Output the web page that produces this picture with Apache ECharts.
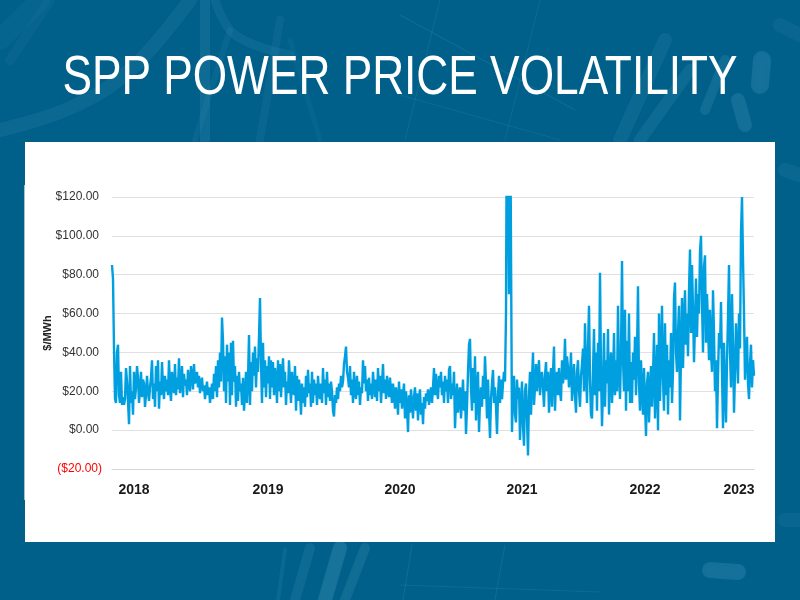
<!DOCTYPE html>
<html>
  <head>
    <title>SPP Power Price Volatility</title>
    <style>
      html,
      body {
        height: 100%;
        margin: 0;
        padding: 0;
      }
      #chart-container {
        width: 800px;
        height: 600px;
      }
    </style>
    <script src="https://cdn.jsdelivr.net/npm/echarts@6/dist/echarts.min.js"></script>
  </head>
  <body>
    <div id="chart-container"></div>

    <script>
      // price readings, $/MWh left to right
      var pricesEarly = [
        85, 78, 42, 16, 14, 40, 44, 18, 14, 30, 13, 17, 13, 16, 32, 25, 15, 3, 33, 14, 20, 8, 30, 16, 22, 33, 27, 14, 21, 30, 17, 26, 24, 12, 18, 28, 20, 15, 22, 27,
        36, 16, 24, 12, 33, 20, 36, 11, 25, 18, 35, 22, 16, 28, 20, 26, 18, 36, 22, 15, 30, 24, 19, 34, 18, 27, 21, 37, 19, 24, 33, 17, 29, 23, 26, 18, 31, 25, 20, 33,
        28, 21, 34, 24, 27, 30, 22, 28, 19, 24, 27, 20, 23, 16, 21, 25, 18, 22, 14, 19, 24, 16, 29, 20, 33, 17, 36, 22, 40, 25, 58, 46, 20, 38, 14, 44, 25, 40, 13, 45,
        18, 46, 25, 33, 12, 28, 15, 30, 20, 24, 13, 27, 10, 19, 30, 14, 26, 49, 13, 35, 20, 40, 28, 43, 22, 37, 30, 48, 68, 35, 14, 45, 22, 36, 17, 33, 24, 38, 16, 36
      ];
      var pricesCalm = [
        22, 35, 18, 32, 26, 14, 36, 20, 34, 17, 28, 37, 22, 30, 13, 25, 19, 36, 24, 14, 30, 21, 18, 33, 10, 28, 15, 26, 20, 8, 24, 14, 22, 12, 28, 17, 31, 19, 24, 12,
        30, 14, 26, 18, 24, 13, 28, 20, 16, 24, 14, 32, 19, 26, 13, 30, 17, 24, 15, 25, 20, 10, 7, 18, 14, 22, 16, 24, 20, 28, 22, 25, 34, 38, 43, 30, 27, 22, 33, 18,
        26, 14, 30, 20, 16, 28, 18, 25, 13, 22, 19, 36, 24, 33, 20, 26, 15, 27, 18, 24, 16, 30, 22, 17, 26, 15, 32, 20, 28, 14, 24, 34, 19, 26, 16, 28, 21, 17, 27, 20,
        14, 24, 19, 11, 22, 17, 8, 25, 14, 21, 11, 18, 24, 6, 20, 12, -1, 18, 9, 21, 14, 6, 17, 22, 10, 19, 5, 16, 21, 8, 14, 3, 17, 11, 19, 15, 21, 13, 18, 22
      ];
      var pricesSpike = [
        14, 22, 32, 18, 29, 20, 16, 28, 22, 30, 18, 25, 14, 28, 20, 26, 14, 31, 33, 16, 24, 18, 30, 1, 14, 24, 9, 18, 22, 6, 16, 26, 10, 20, -2, 12, 30, 44, 47, 22,
        10, 32, 14, 38, 5, 20, 30, -1, 15, 22, 12, 28, 16, 38, 24, 6, 26, 10, -4, 16, 24, 31, 14, 22, 12, -2, 18, 28, 14, 26, 16, 24, 30, 25, 60, 190, 190, 70, 190, 190
      ];
      var pricesRising = [
        -1, 22, 28, 8, 4, 26, 16, 22, -5, 12, 25, 2, -8, 20, 24, 6, -13, 18, 30, 8, 26, 40, 13, 22, 34, 20, 28, 36, 18, 26, 30, 22, 12, 28, 35, 20, 30, 9, 24, 32,
        12, 30, 43, 10, 26, 30, 18, 32, 20, 15, 36, 24, 30, 47, 26, 38, 32, 22, 28, 40, 15, 24, 34, 18, 9, 30, 36, 20, 12, 28, 34, 42, 20, 55, 32, 14, 42, 64, 26, 8,
        6, 30, 52, 18, 40, 10, 45, 20, 81, 30, 2, 22, 50, 12, 36, 24, 52, 8, 30, 40, 14, 26, 50, 18, 36, 20, 64, 30, 16, 40, 87, 36, 20, 62, 10, 46, 20, 60, 14, 35
      ];
      var pricesLate = [
        14, 40, 26, 48, 18, 40, 74, 24, 10, 36, 20, 8, 32, 14, -3, 24, 30, 4, 20, 33, 12, 28, 50, 6, 22, 44, 0, 60, 15, 38, 64, 26, 10, 55, 18, 44, 8, 36, 22, 50,
        14, 30, 68, 76, 40, 30, 50, 64, 5, 40, 68, 32, 56, 72, 44, 60, 38, 72, 93, 50, 85, 62, 35, 55, 78, 48, 70, 60, 92, 100, 66, 40, 84, 90, 45, 70, 55, 36, 62, 40,
        30, 72, 50, 20, 36, 1, 28, 50, 42, 66, 30, 1, 45, 22, 4, 36, 58, 85, 40, 22, 70, 44, 9, 30, 55, 40, 24, 60, 42, 102, 120, 88, 60, 26, 38, 48, 24, 16, 34, 44,
        22, 36, 28
      ];
      var prices = pricesEarly.concat(pricesCalm, pricesSpike, pricesRising, pricesLate);

      var yearLabels = ["2018", "2019", "2020", "2021", "2022", "2023"];
      var yearLabelIndex = [22, 156, 288, 410, 533, 627];
      var categories = prices.map(function (v, i) {
        var k = yearLabelIndex.indexOf(i);
        return k >= 0 ? yearLabels[k] : "";
      });

      // faint background streaks behind the title and the white panel
      function streak(points, width, alpha) {
        return {
          type: "polyline",
          silent: true,
          z: -5,
          shape: { points: points, smooth: 0.4 },
          style: {
            fill: null,
            stroke: "rgba(110,185,215," + alpha + ")",
            lineWidth: width,
            lineCap: "round",
            shadowBlur: width > 2 ? 6 : 0,
            shadowColor: "rgba(110,185,215," + alpha + ")",
          },
        };
      }

      var background = [
        { type: "rect", silent: true, z: -10, shape: { x: 0, y: 0, width: 800, height: 600 }, style: { fill: "#00608a" } },
        streak([[0, 130], [70, 108], [130, 70], [190, 0]], 14, 0.1),
        streak([[0, 40], [40, 0]], 20, 0.06),
        streak([[10, 60], [50, 0]], 10, 0.05),
        streak([[205, 0], [205, 140]], 10, 0.13),
        streak([[215, 0], [235, 35], [290, 55]], 9, 0.1),
        streak([[280, 20], [260, 140]], 8, 0.08),
        streak([[230, 30], [195, 140]], 6, 0.08),
        streak([[290, 40], [320, 140]], 5, 0.06),
        streak([[400, 15], [575, 110]], 1, 0.16),
        streak([[400, 95], [560, 140]], 1, 0.12),
        streak([[440, 0], [405, 140]], 1, 0.13),
        streak([[540, 0], [505, 140]], 1, 0.12),
        streak([[665, 40], [620, 140]], 14, 0.1),
        streak([[690, 70], [640, 140]], 12, 0.12),
        streak([[725, 60], [705, 110]], 10, 0.14),
        streak([[762, 60], [760, 85]], 18, 0.18),
        streak([[738, 100], [745, 125]], 14, 0.16),
        streak([[780, 25], [800, 35]], 14, 0.08),
        streak([[785, 170], [800, 175]], 14, 0.09),
        streak([[785, 520], [800, 520]], 14, 0.08),
        streak([[310, 548], [295, 600]], 10, 0.12),
        streak([[340, 548], [325, 600]], 14, 0.2),
        streak([[365, 548], [345, 600]], 10, 0.14),
        streak([[285, 550], [278, 600]], 4, 0.1),
        streak([[710, 570], [738, 572]], 16, 0.18),
        streak([[412, 545], [403, 600]], 1, 0.15),
        streak([[505, 545], [495, 600]], 1, 0.13),
        streak([[400, 585], [600, 592]], 1, 0.12),
        { type: "rect", silent: true, z: -3, shape: { x: 25, y: 142, width: 750, height: 400 }, style: { fill: "#ffffff" } },
        { type: "rect", silent: true, z: -2, shape: { x: 24, y: 185, width: 1, height: 315 }, style: { fill: "#a9bfcb" } },
        {
          // no condensed face installed, so squeeze the sans horizontally
          type: "text",
          silent: true,
          z: 4,
          x: 400,
          y: 79,
          originX: 0,
          originY: 0,
          scaleX: 0.79,
          style: {
            text: "SPP POWER PRICE VOLATILITY",
            fill: "#ffffff",
            font: "normal 56px 'Liberation Sans'",
            textAlign: "center",
            textVerticalAlign: "middle",
          },
        },
      ];

      var myChart = echarts.init(document.getElementById("chart-container"), "", {
        renderer: "canvas",
      });

      var option = {
        animation: false,
        graphic: background,
        grid: {
          left: 112,
          right: 46,
          top: 197,
          bottom: 131,
        },
        xAxis: {
          type: "category",
          data: categories,
          boundaryGap: false,
          z: 10,
          axisLine: { show: true, onZero: false, lineStyle: { color: "#d4d4d4", width: 1 } },
          axisTick: { show: false },
          splitLine: { show: false },
          axisLabel: {
            margin: 9,
            interval: function (index) {
              return yearLabelIndex.indexOf(index) >= 0;
            },
            color: "#1a1a1a",
            fontFamily: "Liberation Sans",
            fontWeight: "bold",
            fontSize: 14,
          },
        },
        yAxis: {
          type: "value",
          min: -20,
          max: 120,
          interval: 20,
          z: 10,
          name: "$/MWh",
          nameLocation: "middle",
          nameRotate: 90,
          nameGap: 55,
          nameMoveOverlap: false,
          nameTextStyle: {
            color: "#222222",
            fontFamily: "Liberation Sans",
            fontWeight: "bold",
            fontSize: 11,
          },
          axisLine: { show: false },
          axisTick: { show: false },
          splitLine: { lineStyle: { color: "#e0e0e0", width: 1 } },
          axisLabel: {
            margin: 10,
            formatter: function (value) {
              if (value < 0) {
                return "{neg|($" + Math.abs(value).toFixed(2) + ")}";
              }
              return "{pos|$" + value.toFixed(2) + "}";
            },
            rich: {
              pos: { color: "#333333", fontFamily: "Liberation Sans", fontSize: 12, padding: [0, 3, 0, 0] },
              neg: { color: "#ff0000", fontFamily: "Liberation Sans", fontSize: 12 },
            },
          },
        },
        series: [
          {
            type: "line",
            data: prices,
            symbol: "none",
            smooth: false,
            clip: true,
            z: 20,
            lineStyle: { color: "#009fe0", width: 2.4 },
          },
        ],
      };
      myChart.setOption(option);
    </script>
  </body>
</html>
